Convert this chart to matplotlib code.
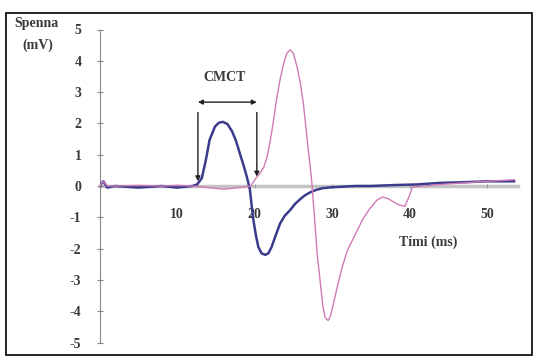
import matplotlib
matplotlib.use("Agg")
from matplotlib import pyplot as plt
from matplotlib.patches import Rectangle

# time axis (ms) and voltages (mV)
blue_t = [0, 0.5, 1, 2, 5, 8, 10, 12, 12.6, 13.2, 13.7, 14.2, 14.9, 15.4, 15.9, 16.5,
          17.1, 17.6, 18.1, 18.6, 19.0, 19.4, 19.8, 20.2, 20.5, 20.9, 21.4, 21.8, 22.2,
          22.7, 23.3, 23.9, 24.6, 25.2, 25.9, 26.5, 27.2, 28.0, 28.8, 30, 31.5, 33, 35,
          38, 41, 44, 47, 50, 53.5]
blue_v = [0, 0.15, -0.05, 0, -0.05, 0, -0.05, 0, 0.05, 0.25, 0.8, 1.47, 1.9, 2.02, 2.05,
          1.98, 1.75, 1.45, 1.05, 0.65, 0.3, -0.1, -1.0, -1.6, -1.95, -2.15, -2.2, -2.15,
          -1.95, -1.6, -1.2, -0.95, -0.77, -0.58, -0.42, -0.3, -0.2, -0.12, -0.07, -0.04,
          -0.02, 0, 0, 0.03, 0.05, 0.1, 0.12, 0.15, 0.15]

pink_t = [0, 0.5, 1, 2, 5, 8, 10, 12, 14, 16, 18, 19.5, 20.2, 20.7, 21.2, 21.6, 22.0,
          22.4, 22.8, 23.3, 23.8, 24.2, 24.6, 25.0, 25.5, 25.9, 26.3, 26.6, 26.9, 27.2,
          27.4, 27.8, 28.1, 28.5, 28.8, 29.1, 29.5, 29.8, 30.1, 30.7, 31.3, 32.0, 32.7,
          33.4, 34.0, 34.8, 35.8, 36.5, 37.2, 37.9, 38.6, 39.4, 40.0, 40.4, 41.0, 42, 44,
          47, 50, 53.5]
pink_v = [0, 0.15, 0, 0, 0.02, 0, 0.02, 0, -0.05, -0.1, -0.05, 0, 0.25, 0.4, 0.6, 0.9,
          1.4, 2.0, 2.7, 3.4, 3.95, 4.25, 4.35, 4.25, 3.8, 3.3, 2.65, 1.95, 1.25, 0.6,
          0.1, -1.2, -2.2, -3.1, -3.8, -4.2, -4.3, -4.15, -3.85, -3.2, -2.6, -2.05, -1.7,
          -1.35, -1.05, -0.75, -0.45, -0.35, -0.4, -0.5, -0.6, -0.65, -0.3, -0.02, -0.02,
          0, 0.05, 0.1, 0.15, 0.2]

x_ticks = [10, 20, 30, 40, 50]
y_ticks = [-5, -4, -3, -2, -1, 0, 1, 2, 3, 4, 5]

# CMCT interval (ms) and level of the bracket (mV)
cmct_start = 12.7
cmct_end = 20.3
cmct_level = 2.68

plt.rcParams['font.family'] = ['Liberation Serif', 'DejaVu Serif']

fig = plt.figure(figsize=(5.33, 3.56), dpi=100)
W, H = 533, 356
# axes placed in pixels: x 0 -> px 99.5, 7.75 px/ms ; y 0 -> px 186, 31.3 px/mV
xmin, xmax = 0, 55
ymin, ymax = -5.3, 5.3
left = 99.5
right = left + (xmax - xmin) * 7.75
top = 186 - ymax * 31.3
bottom = 186 - ymin * 31.3
ax = fig.add_axes([left / W, 1 - bottom / H, (right - left) / W, (bottom - top) / H])
ax.set_xlim(xmin, xmax)
ax.set_ylim(ymin, ymax)
ax.patch.set_alpha(0)

# frame around the figure
fig.patches.append(Rectangle((6 / W, 0.002), 1 - 6 / W - 0.002, 1 - 13 / H - 0.002,
                             transform=fig.transFigure, fill=False, edgecolor='black',
                             linewidth=1.2))

ax.plot(blue_t, blue_v, color='#3b3b8e', linewidth=1.8, zorder=3)
ax.plot(pink_t, pink_v, color='#d07ab6', linewidth=1.0, zorder=4)

for s in ['top', 'right']:
    ax.spines[s].set_visible(False)
ax.spines['left'].set_position(('data', 0))
ax.spines['left'].set_bounds(-5, 5)
ax.spines['left'].set_color('#888888')
ax.spines['bottom'].set_position(('data', 0))
ax.spines['bottom'].set_bounds(0, 54)
ax.spines['bottom'].set_color('#c4c4c4')
ax.spines['bottom'].set_linewidth(2.5)
ax.spines['bottom'].set_zorder(1)

ax.set_xticks(x_ticks)
ax.set_yticks(y_ticks)
ax.set_yticklabels([str(v) for v in y_ticks])
ax.tick_params(axis='y', direction='inout', length=4, width=0.8, color='#888888',
               labelsize=10, pad=11)
ax.tick_params(axis='x', direction='inout', length=3, width=0.8, color='#999999',
               labelsize=10, pad=14)
for lab in ax.get_xticklabels() + ax.get_yticklabels():
    lab.set_fontweight('bold')
    lab.set_color('#3a3a3a')

# CMCT annotation
ax.annotate('', xy=(cmct_start, cmct_level), xytext=(cmct_end, cmct_level),
            arrowprops=dict(arrowstyle='<|-|>', color='#222222', lw=1.0,
                            mutation_scale=7, shrinkA=0, shrinkB=0))
ax.annotate('', xy=(cmct_start, 0.15), xytext=(cmct_start, 2.35),
            arrowprops=dict(arrowstyle='-|>', color='#222222', lw=1.0,
                            mutation_scale=7, shrinkA=0, shrinkB=0))
ax.annotate('', xy=(cmct_end, 0.3), xytext=(cmct_end, 2.35),
            arrowprops=dict(arrowstyle='-|>', color='#222222', lw=1.0,
                            mutation_scale=7, shrinkA=0, shrinkB=0))
ax.text(16.2, 3.48, 'CMCT', ha='center', va='center', fontsize=10, color='#3a3a3a',
        fontweight='bold')

fig.text(36 / W, 1 - 23 / H, 'Spenna', ha='center', va='center', fontsize=10,
         fontweight='bold', color='#3a3a3a')
fig.text(38 / W, 1 - 45 / H, '(mV)', ha='center', va='center', fontsize=10,
         fontweight='bold', color='#3a3a3a')
ax.text(42.4, -1.8, 'Tími (ms)', ha='center', va='center', fontsize=10,
        fontweight='bold', color='#3a3a3a')

fig.savefig('out.png', dpi=100)
